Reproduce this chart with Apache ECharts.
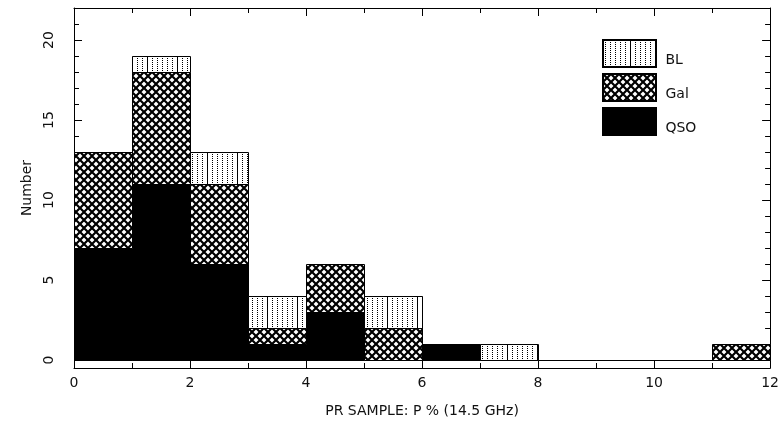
<!DOCTYPE html>
<html>
<head>
<meta charset="utf-8">
<title>PR sample histogram</title>
<script src="https://cdn.jsdelivr.net/npm/echarts@6/dist/echarts.min.js"></script>
<style>
  html, body { margin: 0; padding: 0; background: #fff; }
  #main { width: 782px; height: 426px; }
</style>
</head>
<body>
<div id="main"></div>
<script>
// histogram bins, width 1 (P %)
var binStart = [0, 1, 2, 3, 4, 5, 6, 7, 8, 9, 10, 11];
var qso = [7, 11, 6, 1, 3, 0, 1, 0, 0, 0, 0, 0];
var gal = [6, 7, 5, 1, 3, 2, 0, 0, 0, 0, 0, 1];
var bl  = [0, 1, 2, 2, 0, 2, 0, 1, 0, 0, 0, 0];
var legendNames = ['BL', 'Gal', 'QSO'];
var xName = 'PR SAMPLE: P % (14.5 GHz)';
var yName = 'Number';

var font = 'DejaVu Sans';

// fill patterns
function blCanvas() {
  var c = document.createElement('canvas');
  c.width = 30; c.height = 4;
  var g = c.getContext('2d');
  g.fillStyle = '#fff'; g.fillRect(0, 0, 30, 4);
  g.fillStyle = '#000';
  [2, 7, 12, 17, 22].forEach(function (x) {
    g.fillRect(x, 0, 1, 1);
    g.fillRect(x, 2, 1, 1);
  });
  g.fillRect(27, 0, 1, 4);
  return c;
}
function galCanvas() {
  var c = document.createElement('canvas');
  c.width = 8; c.height = 8;
  var g = c.getContext('2d');
  g.fillStyle = '#fff'; g.fillRect(0, 0, 8, 8);
  g.strokeStyle = '#000'; g.lineWidth = 2.2;
  g.beginPath();
  g.moveTo(-1, -1); g.lineTo(9, 9);
  g.moveTo(9, -1); g.lineTo(-1, 9);
  g.stroke();
  return c;
}
var fills = {
  QSO: '#000',
  Gal: { image: galCanvas(), repeat: 'repeat' },
  BL: { image: blCanvas(), repeat: 'repeat' }
};

function stackSeries(name, vals, below, keepZero) {
  var data = [];
  for (var i = 0; i < binStart.length; i++) {
    if (vals[i] > 0 || keepZero) {
      data.push([binStart[i], binStart[i] + 1, below[i], below[i] + vals[i]]);
    }
  }
  return {
    name: name,
    type: 'custom',
    xAxisIndex: 0,
    yAxisIndex: 0,
    itemStyle: { color: fills[name], borderColor: '#000', borderWidth: 1 },
    encode: { x: [0, 1], y: [2, 3] },
    renderItem: function (params, api) {
      var p0 = api.coord([api.value(0), api.value(3)]);
      var p1 = api.coord([api.value(1), api.value(2)]);
      var x0 = Math.round(p0[0]) + 0.5, y0 = Math.round(p0[1]) + 0.5;
      var x1 = Math.round(p1[0]) + 0.5, y1 = Math.round(p1[1]) + 0.5;
      return {
        type: 'rect',
        shape: { x: x0, y: y0, width: x1 - x0, height: y1 - y0 },
        style: { fill: fills[name], stroke: '#000', lineWidth: 1 }
      };
    },
    data: data
  };
}

var zeros = binStart.map(function () { return 0; });
var qsoGal = qso.map(function (v, i) { return v + gal[i]; });

var lineStyle = { color: '#000', width: 1 };
function xAx(pos, labels) {
  return {
    type: 'value', position: pos, min: 0, max: 12, interval: 2,
    axisLine: { show: true, onZero: false, lineStyle: lineStyle },
    axisTick: { show: true, inside: true, length: 8, lineStyle: lineStyle },
    minorTick: { show: true, splitNumber: 2, length: 5, lineStyle: lineStyle },
    axisLabel: { show: labels, margin: 8, color: '#111', fontFamily: font, fontSize: 14 },
    splitLine: { show: false },
    name: labels ? xName : '',
    nameLocation: 'middle', nameGap: 36,
    nameTextStyle: { color: '#111', fontFamily: font, fontSize: 14 }
  };
}
function yAx(pos, major, labels) {
  return {
    type: 'value', position: pos, min: -0.5, max: 22,
    splitNumber: major ? 5 : 22,
    axisLine: { show: major, onZero: false, lineStyle: lineStyle },
    axisTick: { show: true, inside: true, length: major ? 8 : 5, lineStyle: lineStyle },
    axisLabel: {
      show: labels, rotate: 90, margin: 18, color: '#111', fontFamily: font, fontSize: 14,
      showMinLabel: false, showMaxLabel: false
    },
    splitLine: { show: false },
    name: labels ? yName : '',
    nameLocation: 'middle', nameGap: 38, nameRotate: 90,
    nameTextStyle: { color: '#111', fontFamily: font, fontSize: 14 }
  };
}

var myChart = echarts.init(document.getElementById('main'));
var option = {
  animation: false,
  backgroundColor: '#fff',
  grid: { left: 74, right: 10, top: 8, bottom: 58 },
  legend: {
    data: legendNames,
    orient: 'vertical',
    left: 597, top: 34,
    itemWidth: 53, itemHeight: 27, itemGap: 5,
    icon: 'rect',
    // labels sit low beside each box, as in the original plot
    formatter: function (name) { return '\n ' + name; },
    textStyle: { color: '#111', fontFamily: font, fontSize: 14, lineHeight: 14 }
  },
  xAxis: [xAx('bottom', true), xAx('top', false)],
  yAxis: [yAx('left', true, true), yAx('left', false, false), yAx('right', true, false), yAx('right', false, false)],
  series: [
    stackSeries('QSO', qso, zeros, true),
    stackSeries('Gal', gal, qso, false),
    stackSeries('BL', bl, qsoGal, false)
  ]
};
myChart.setOption(option);
</script>
</body>
</html>
